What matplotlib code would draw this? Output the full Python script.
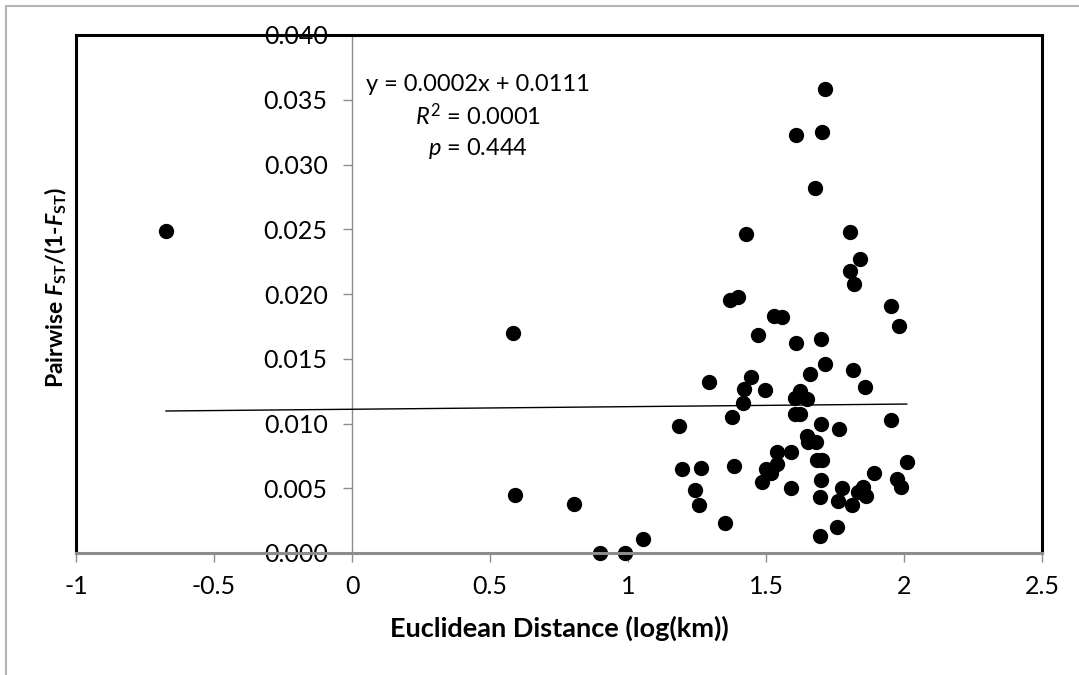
import numpy as np
import matplotlib
matplotlib.use("Agg")
import matplotlib.pyplot as plt
from matplotlib.patches import Rectangle
from matplotlib.lines import Line2D

plt.rcParams['font.family'] = ['Lato', 'DejaVu Sans']
plt.rcParams['mathtext.fontset'] = 'custom'
plt.rcParams['mathtext.rm'] = 'Lato'
plt.rcParams['mathtext.it'] = 'Lato:italic'
plt.rcParams['mathtext.bf'] = 'Lato:bold'
plt.rcParams['mathtext.bfit'] = 'Lato:italic:bold'

# log10 euclidean distance (km) vs pairwise Fst/(1-Fst)
log_dist = [-0.674, 0.583, 0.590, 0.806, 0.899, 0.989, 1.053, 1.186, 1.197, 1.243,
            1.258, 1.263, 1.293, 1.351, 1.370, 1.376, 1.384, 1.400, 1.415, 1.420,
            1.426, 1.446, 1.470, 1.485, 1.496, 1.500, 1.518, 1.530, 1.541, 1.541,
            1.559, 1.591, 1.591, 1.605, 1.605, 1.608, 1.609, 1.623, 1.623, 1.647,
            1.647, 1.653, 1.659, 1.678, 1.681, 1.686, 1.696, 1.696, 1.699, 1.699,
            1.699, 1.702, 1.703, 1.714, 1.714, 1.756, 1.760, 1.764, 1.777, 1.804,
            1.804, 1.813, 1.816, 1.819, 1.835, 1.841, 1.853, 1.859, 1.862, 1.893,
            1.952, 1.952, 1.973, 1.982, 1.988, 2.010]
fst = [0.0249, 0.0170, 0.0045, 0.0038, 0.0000, 0.0000, 0.0011, 0.0098, 0.0065, 0.0049,
       0.0037, 0.0066, 0.0132, 0.0023, 0.0195, 0.0105, 0.0067, 0.0198, 0.0116, 0.0127,
       0.0246, 0.0136, 0.0168, 0.0055, 0.0126, 0.0065, 0.0062, 0.0183, 0.0078, 0.0069,
       0.0182, 0.0078, 0.0050, 0.0120, 0.0107, 0.0162, 0.0323, 0.0125, 0.0107, 0.0119,
       0.0090, 0.0086, 0.0138, 0.0282, 0.0086, 0.0072, 0.0043, 0.0013, 0.0165, 0.0100,
       0.0056, 0.0072, 0.0325, 0.0146, 0.0358, 0.0020, 0.0040, 0.0096, 0.0050, 0.0248,
       0.0218, 0.0037, 0.0141, 0.0208, 0.0047, 0.0227, 0.0051, 0.0128, 0.0044, 0.0062,
       0.0191, 0.0103, 0.0057, 0.0175, 0.0051, 0.0070]

slope = 0.0002
intercept = 0.0111
x_ticks = [-1, -0.5, 0, 0.5, 1, 1.5, 2, 2.5]
x_ticklabels = ['-1', '-0.5', '0', '0.5', '1', '1.5', '2', '2.5']
y_ticks = [0.000, 0.005, 0.010, 0.015, 0.020, 0.025, 0.030, 0.035, 0.040]

W, H = 1079, 675
fig = plt.figure(figsize=(W / 100, H / 100), dpi=100)
ax = fig.add_axes([76 / W, (H - 553) / H, (1042 - 76) / W, (553 - 35) / H])

# outer chart frame (runs off the right and bottom edges)
fig.add_artist(Rectangle((6 / W, -0.2), 1.5, 1.2 - 6 / H, transform=fig.transFigure,
                         fill=False, edgecolor='#b4b4b4', lw=1.5))

ax.plot(log_dist, fst, 'o', color='black', ms=10, zorder=4, clip_on=False)

xs = np.array([min(log_dist), max(log_dist)])
ax.plot(xs, slope * xs + intercept, color='black', lw=1, zorder=3)

ax.set_xlim(-1, 2.5)
ax.set_ylim(0, 0.04)
ax.set_xticks(x_ticks)
ax.set_xticklabels(x_ticklabels)
ax.set_yticks(y_ticks)
ax.set_yticklabels(['%.3f' % v for v in y_ticks])

ax.spines['left'].set_position(('data', 0))
ax.spines['left'].set_color('#8c8c8c')
ax.spines['left'].set_linewidth(1)
ax.spines['bottom'].set_color('#8c8c8c')
ax.spines['bottom'].set_linewidth(2.2)
ax.spines['bottom'].set_zorder(5)
for s in ['top', 'right']:
    ax.spines[s].set_color('black')
    ax.spines[s].set_linewidth(2.2)
ax.add_line(Line2D([0, 0], [0, 1], transform=ax.transAxes, color='black', lw=2.2,
                   clip_on=False, zorder=2))

ax.tick_params(axis='both', direction='out', length=6.5, width=1, color='#8c8c8c',
               labelsize=18, labelcolor='black')
ax.tick_params(axis='x', pad=9)
ax.tick_params(axis='y', pad=11)

ax.set_xlabel('Euclidean Distance (log(km))', fontsize=19.5, fontweight='bold', labelpad=13)
fig.text(56 / W, 1 - 287 / H,
         r'Pairwise $\mathbfit{F}_{\mathbf{ST}}$/(1-$\mathbfit{F}_{\mathbf{ST}}$)',
         fontsize=16.5, fontweight='bold', rotation=90, ha='center', va='center')

ax.text(0.457, 0.0362, 'y = 0.0002x + 0.0111', fontsize=17, ha='center', va='center')
ax.text(0.457, 0.0338, r'$\mathit{R}^{2}$ = 0.0001', fontsize=17, ha='center', va='center')
ax.text(0.457, 0.03127, r'$\mathit{p}$ = 0.444', fontsize=17, ha='center', va='center')

fig.savefig('out.png', dpi=100)
